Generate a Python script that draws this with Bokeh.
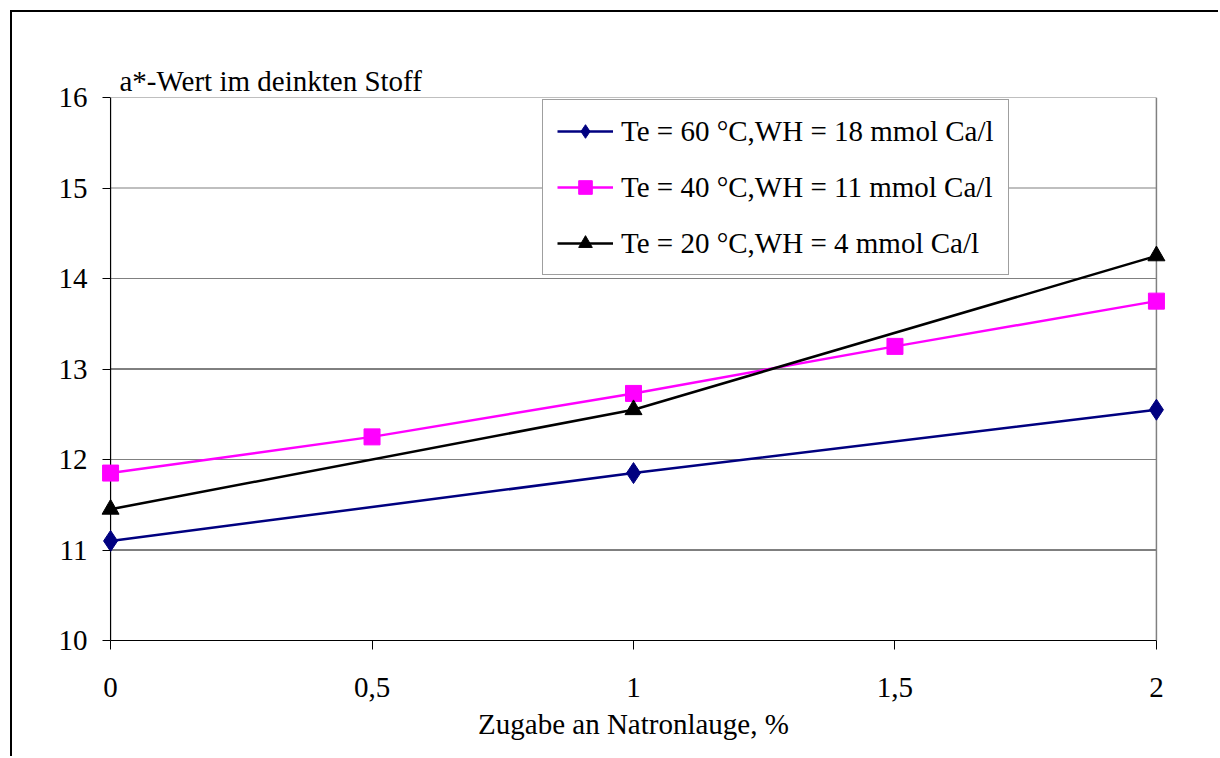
from bokeh.plotting import figure
from bokeh.models import Range1d, FixedTicker, CustomJSTickFormatter, Legend, LegendItem
from bokeh.embed import file_html
from bokeh.resources import INLINE

# data
x_60 = [0, 1, 2]
y_60 = [11.1, 11.85, 12.55]
x_40 = [0, 0.5, 1, 1.5, 2]
y_40 = [11.85, 12.25, 12.73, 13.25, 13.75]
x_20 = [0, 1, 2]
y_20 = [11.45, 12.55, 14.25]
labels = ["Te = 60 °C,WH = 18 mmol Ca/l",
          "Te = 40 °C,WH = 11 mmol Ca/l",
          "Te = 20 °C,WH = 4 mmol Ca/l"]
x_ticks = [0, 0.5, 1, 1.5, 2]
y_ticks = [10, 11, 12, 13, 14, 15, 16]
grid_gray = [12, 14, 15, 16]
grid_dark = [11, 13]

FONT = "Liberation Serif"
FS = "29px"
XMIN, XMAX = x_ticks[0], x_ticks[-1]
YMIN, YMAX = y_ticks[0], y_ticks[-1]
PAD = 0.025  # room so edge markers are not clipped

# page offset by outer frame (10px margin + 2px border)
OFF = 12
p = figure(width=1220 - OFF, height=758 - OFF, output_backend="svg", toolbar_location=None,
           x_range=Range1d(XMIN - PAD, XMAX + PAD), y_range=Range1d(YMIN, YMAX),
           min_border_left=97 - OFF, min_border_right=51, min_border_top=97 - OFF,
           min_border_bottom=118, title="a*-Wert im deinkten Stoff")
p.styles = {"margin-left": "10px", "margin-top": "10px",
            "border-left": "2px solid black", "border-top": "2px solid black"}
p.background_fill_color = "white"
p.border_fill_color = "white"
p.outline_line_color = None

p.title.text_font = FONT
p.title.text_font_size = FS
p.title.text_font_style = "normal"
p.title.text_color = "black"
p.title.align = "left"
p.title.offset = 22
p.title.standoff = 2

# axes
p.xaxis.ticker = FixedTicker(ticks=x_ticks)
p.xaxis.formatter = CustomJSTickFormatter(code="return tick.toString().replace('.', ',');")
p.yaxis.ticker = FixedTicker(ticks=y_ticks)
p.xaxis.bounds = (XMIN, XMAX)
p.yaxis.bounds = (YMIN, YMAX)
p.axis.axis_line_color = "black"
p.axis.major_tick_line_color = "black"
p.axis.minor_tick_line_color = None
p.axis.minor_tick_out = 0
p.axis.minor_tick_in = 0
p.axis.major_label_text_font = FONT
p.axis.major_label_text_font_size = FS
p.axis.major_label_text_color = "black"
p.xaxis.major_tick_in = 0
p.xaxis.major_tick_out = 9
p.xaxis.major_label_standoff = 28
# y axis sits at the frame edge; ticks reach to the data edge at x=0
p.yaxis.axis_line_color = None
p.yaxis.major_tick_in = 13
p.yaxis.major_tick_out = -5
p.yaxis.major_label_standoff = 10
p.xaxis.axis_label = "Zugabe an Natronlauge, %"
p.xaxis.axis_label_text_font = FONT
p.xaxis.axis_label_text_font_size = FS
p.xaxis.axis_label_text_font_style = "normal"
p.xaxis.axis_label_text_color = "black"
p.xaxis.axis_label_standoff = 8

p.grid.grid_line_color = None

# gridlines limited to the data area, plus left axis line and right border
p.segment(x0=[XMIN] * len(grid_gray), x1=[XMAX] * len(grid_gray), y0=grid_gray, y1=grid_gray,
          line_color="#808080", line_width=1.2)
p.segment(x0=[XMIN] * len(grid_dark), x1=[XMAX] * len(grid_dark), y0=grid_dark, y1=grid_dark,
          line_color="black", line_width=1)
p.segment(x0=[XMAX], x1=[XMAX], y0=[YMIN], y1=[YMAX], line_color="#808080", line_width=1.5)
p.segment(x0=[XMIN], x1=[XMIN], y0=[YMIN], y1=[YMAX], line_color="black", line_width=1.2)

# series
l1 = p.line(x_60, y_60, line_color="#000080", line_width=2.5)
m1 = p.scatter(x_60, y_60, marker="diamond", size=21, fill_color="#000080", line_color="#000080")
l2 = p.line(x_40, y_40, line_color="#FF00FF", line_width=2.5)
m2 = p.scatter(x_40, y_40, marker="square", size=16, fill_color="#FF00FF", line_color="#FF00FF")
l3 = p.line(x_20, y_20, line_color="black", line_width=2.5)
m3 = p.scatter(x_20, y_20, marker="triangle", size=17, fill_color="black", line_color="black")

legend = Legend(items=[LegendItem(label=labels[0], renderers=[l1, m1]),
                       LegendItem(label=labels[1], renderers=[l2, m2]),
                       LegendItem(label=labels[2], renderers=[l3, m3])],
                location=(445, 365))
legend.label_text_font = FONT
legend.label_text_font_size = FS
legend.label_text_color = "black"
legend.glyph_width = 56
legend.glyph_height = 34
legend.label_height = 34
legend.spacing = 22
legend.padding = 14
legend.margin = 0
legend.label_standoff = 8
legend.border_line_color = "#404040"
legend.border_line_width = 1.5
legend.background_fill_color = "white"
legend.background_fill_alpha = 1
p.add_layout(legend, "center")

open("out.html", "w").write(file_html(p, INLINE))
